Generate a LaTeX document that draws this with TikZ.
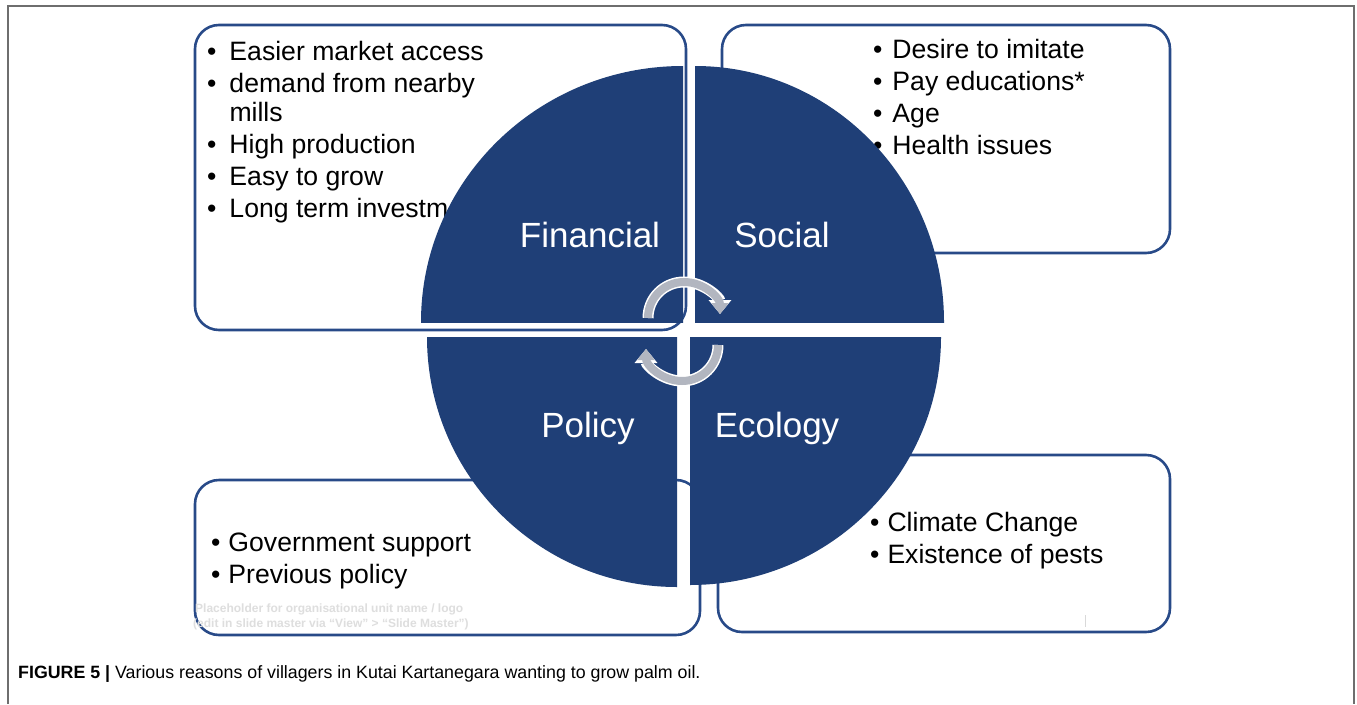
\documentclass[tikz,border=0pt]{standalone}
\usepackage{fontspec}
\setmainfont{Liberation Sans}
\usepackage{tikz}
\usetikzlibrary{arrows.meta}

\definecolor{quadblue}{RGB}{31,63,119}
\definecolor{boxblue}{RGB}{40,74,136}
\definecolor{cyclegray}{RGB}{178,182,192}
\definecolor{framegray}{RGB}{110,110,110}

\begin{document}
\begin{tikzpicture}[x=1pt, y=-1pt,
    reasonbox/.style = {draw=boxblue, line width=2.6pt, fill=white, rounded corners=24pt},
    reasons/.style = {anchor=north west, inner sep=0pt, font=\fontsize{26.6}{32}\selectfont},
    quadlabel/.style = {text=white, font=\fontsize{35}{40}\selectfont, anchor=base},
    cyclearrow/.style = {line width=8pt, cyclegray, -{Triangle[width=17pt, length=11pt]}},
    cycleedge/.style = {line width=11pt, white, -{Triangle[width=22pt, length=14pt]}}]
    \useasboundingbox (0,0) rectangle (1357,704);
    % frame
    \draw[framegray, line width=1.2pt] (8,704) -- (8,6) -- (1354,6) -- (1354,704);

    % boxes behind the circle
    \draw[reasonbox] (195,25) rectangle (686,330);
    \draw[reasonbox] (722,25) rectangle (1170,253);
    \draw[reasonbox] (195,480) rectangle (700,635);
    \draw[reasonbox] (718,455) rectangle (1170,632);

    \node[reasons] (fin) at (207,38) {\begin{tabular}{@{}l@{\hspace{13pt}}l@{}}
        \textbullet & Easier market access\\
        \textbullet & demand from nearby\\[-3pt]
                    & mills\\
        \textbullet & High production\\
        \textbullet & Easy to grow\\
        \textbullet & Long term investment
    \end{tabular}};
    \node[reasons] (soc) at (873,36) {\begin{tabular}{@{}l@{\hspace{10pt}}l@{}}
        \textbullet & Desire to imitate\\
        \textbullet & Pay educations*\\
        \textbullet & Age\\
        \textbullet & Health issues
    \end{tabular}};
    \node[reasons] (pol) at (211,529) {\begin{tabular}{@{}l@{\hspace{8pt}}l@{}}
        \textbullet & Government support\\
        \textbullet & Previous policy
    \end{tabular}};
    \node[reasons] (eco) at (870,509) {\begin{tabular}{@{}l@{\hspace{8pt}}l@{}}
        \textbullet & Climate Change\\
        \textbullet & Existence of pests
    \end{tabular}};
    \node[anchor=north west, inner sep=0pt, align=left, text=black!13,
          font=\bfseries\fontsize{12}{15}\selectfont] (holder) at (193,604)
        {\,Placeholder for organisational unit name / logo\\
         (edit in slide master via “View” > “Slide Master”)};
    \draw[black!15, line width=0.8pt] (1085,615) -- (1085,627);

    % the four quadrants
    \begin{scope}
        \clip (683,322) rectangle (383,22);
        \fill[quadblue] (683,322) ellipse [x radius=262, y radius=256];
    \end{scope}
    \begin{scope}
        \clip (695,322) rectangle (995,22);
        \fill[quadblue] (695,322) ellipse [x radius=249, y radius=256];
    \end{scope}
    \begin{scope}
        \clip (677,337) rectangle (377,637);
        \fill[quadblue] (677,337) circle (250);
    \end{scope}
    \begin{scope}
        \clip (690,337) rectangle (990,637);
        \fill[quadblue] (690,337) ellipse [x radius=251, y radius=248];
    \end{scope}
    \node[quadlabel] (financial) at (590,247) {Financial};
    \node[quadlabel] (social) at (782,247) {Social};
    \node[quadlabel] (policy) at (588,437) {Policy};
    \node[quadlabel] (ecology) at (777,437) {Ecology};

    % cycle arrows
    \draw[cycleedge] (648,318) .. controls (648,298) and (664,282) .. (684,282)
        .. controls (704,282) and (720,298) .. (720,314);
    \draw[cyclearrow] (648,318) .. controls (648,298) and (664,282) .. (684,282)
        .. controls (704,282) and (720,298) .. (720,314);
    \draw[cycleedge] (718,345) .. controls (718,365) and (702,381) .. (682,381)
        .. controls (662,381) and (646,365) .. (646,349);
    \draw[cyclearrow] (718,345) .. controls (718,365) and (702,381) .. (682,381)
        .. controls (662,381) and (646,365) .. (646,349);

    % caption
    \node[anchor=base west, inner sep=0pt, font=\fontsize{17.8}{20}\selectfont] (caption) at (18,678)
        {\textbf{FIGURE 5 |} Various reasons of villagers in Kutai Kartanegara wanting to grow palm oil.};
\end{tikzpicture}
\end{document}
